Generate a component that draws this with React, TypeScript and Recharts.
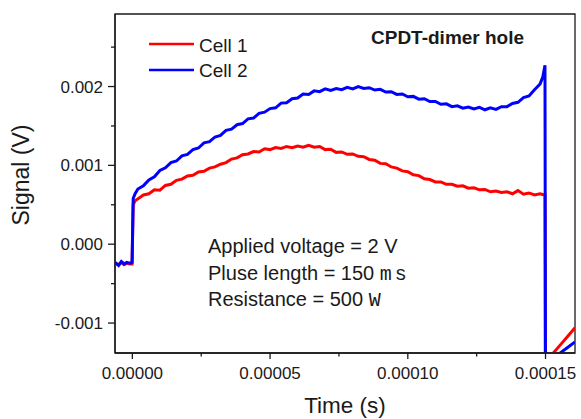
import { LineChart, Line, XAxis, YAxis, ReferenceArea, Customized } from "recharts"

// time in microseconds, signal in millivolts
const timeUs = [
  -6.3, -5, -4, -3, -2, -1, -0.1, 0.3, 1,
  2, 4, 6, 8, 10, 12, 14, 16, 18, 20,
  22, 24, 26, 28, 30, 32, 34, 36, 38, 40,
  42, 44, 46, 48, 50, 52, 54, 56, 58, 60,
  62, 64, 66, 68, 70, 72, 74, 76, 78, 80,
  82, 84, 86, 88, 90, 92, 94, 96, 98, 100,
  102, 104, 106, 108, 110, 112, 114, 116, 118, 120,
  122, 124, 126, 128, 130, 132, 134, 136, 138, 140,
  142, 144, 146, 148, 149, 149.8,
  150.1, 152.8, 155.3, 158, 160.7,
]

const cell1 = [
  -0.24, -0.26, -0.23, -0.26, -0.24, -0.25, -0.25, 0.5, 0.55,
  0.575, 0.625, 0.64, 0.69, 0.685, 0.745, 0.76, 0.81, 0.825, 0.865,
  0.875, 0.915, 0.925, 0.965, 0.98, 1.015, 1.035, 1.08, 1.095, 1.135,
  1.145, 1.175, 1.17, 1.21, 1.2, 1.225, 1.215, 1.24, 1.225, 1.245,
  1.23, 1.255, 1.23, 1.24, 1.2, 1.205, 1.165, 1.17, 1.14, 1.145,
  1.115, 1.11, 1.075, 1.065, 1.025, 1.02, 0.98, 0.965, 0.93, 0.92,
  0.88, 0.87, 0.83, 0.82, 0.79, 0.79, 0.76, 0.76, 0.735, 0.74,
  0.71, 0.715, 0.69, 0.695, 0.665, 0.675, 0.655, 0.665, 0.64, 0.68,
  0.635, 0.65, 0.625, 0.64, 0.63, 0.625,
  -4, -1.38, -1.28, -1.17, -1.06,
]

const cell2 = [
  -0.23, -0.27, -0.22, -0.25, -0.23, -0.24, -0.23, 0.58, 0.64,
  0.7, 0.74, 0.815, 0.855, 0.935, 0.97, 1.035, 1.055, 1.12, 1.14,
  1.2, 1.22, 1.285, 1.3, 1.36, 1.38, 1.445, 1.46, 1.515, 1.53,
  1.59, 1.6, 1.66, 1.675, 1.72, 1.73, 1.79, 1.795, 1.845, 1.855,
  1.905, 1.9, 1.945, 1.935, 1.97, 1.95, 1.975, 1.96, 1.99, 1.97,
  2.0, 1.975, 1.985, 1.955, 1.965, 1.93, 1.935, 1.9, 1.905, 1.87,
  1.875, 1.84, 1.845, 1.81, 1.81, 1.775, 1.78, 1.745, 1.755, 1.725,
  1.74, 1.715, 1.735, 1.705, 1.73, 1.71, 1.745, 1.745, 1.785, 1.8,
  1.86, 1.88, 1.96, 2.03, 2.12, 2.27,
  -4, -2.64, -1.38, -1.31, -1.24,
]

const xTicks = [0, 0.000025, 0.00005, 0.000075, 0.0001, 0.000125, 0.00015]
const yTicks = [-0.001, -0.0005, 0, 0.0005, 0.001, 0.0015, 0.002, 0.0025]
const xDomain = [-0.0000063, 0.0001607]
const yDomain = [-0.00138, 0.00292]

const annotations = [
  ["Applied voltage = 2 V", ""],
  ["Pluse length = 150 ", "ms"],
  ["Resistance = 500 ", "W"],
]

const data = timeUs.map((t, i) => ({
  time: t * 1e-6,
  cell1: cell1[i] / 1000,
  cell2: cell2[i] / 1000,
}))

const FONT = "'Liberation Sans', Arial, sans-serif"
const INK = "#1a1a1a"

const XTick = (props: any) => {
  const { x, y, payload, index } = props
  const major = index % 2 === 0
  return (
    <g>
      <line x1={x} x2={x} y1={y} y2={y + (major ? 6 : 3.5)} stroke={INK} strokeWidth={1.3} />
      {major && (
        <text x={x} y={y + 26} textAnchor="middle" fontSize={17} fontFamily={FONT} fill={INK}>
          {payload.value.toFixed(5)}
        </text>
      )}
    </g>
  )
}

const YTick = (props: any) => {
  const { x, y, payload, index } = props
  const major = index % 2 === 0
  return (
    <g>
      <line x1={x} x2={x - (major ? 7 : 4)} y1={y} y2={y} stroke={INK} strokeWidth={1.3} />
      {major && (
        <text x={x - 12} y={y + 6} textAnchor="end" fontSize={17} fontFamily={FONT} fill={INK}>
          {payload.value.toFixed(3)}
        </text>
      )}
    </g>
  )
}

const Decorations = () => (
  <g fontFamily={FONT} fill={INK}>
    <line x1={149} x2={194} y1={44} y2={44} stroke="#ff0000" strokeWidth={2.5} />
    <text x={199} y={52} fontSize={19}>Cell 1</text>
    <line x1={149} x2={194} y1={70} y2={70} stroke="#0000ff" strokeWidth={2.5} />
    <text x={199} y={77} fontSize={19}>Cell 2</text>
    <text x={371} y={44} fontSize={19} fontWeight="bold">CPDT-dimer hole</text>
    {annotations.map(([main, sym], i) => (
      <text key={i} x={208} y={253 + i * 26.7} fontSize={20}>
        {main}
        {sym && <tspan fontFamily="'Liberation Mono', monospace" letterSpacing={3}>{sym}</tspan>}
      </text>
    ))}
    <text x={345} y={413} fontSize={22.5} textAnchor="middle">Time (s)</text>
    <text x={0} y={0} fontSize={23} textAnchor="middle" transform="translate(28.5 175) rotate(-90)">
      Signal (V)
    </text>
  </g>
)

export default function App() {
  return (
    <div style={{ position: "absolute", left: 0, top: 0, background: "#fff" }}>
      <LineChart width={581} height={419} data={data} margin={{ top: 14, right: 6, bottom: 0, left: 0 }}>
        <XAxis
          dataKey="time"
          type="number"
          domain={xDomain}
          allowDataOverflow
          ticks={xTicks}
          interval={0}
          height={66}
          tickSize={0}
          tickMargin={0}
          tickLine={false}
          axisLine={{ stroke: INK, strokeWidth: 1.3 }}
          tick={<XTick />}
        />
        <YAxis
          type="number"
          domain={yDomain}
          allowDataOverflow
          ticks={yTicks}
          interval={0}
          width={115}
          tickSize={0}
          tickMargin={0}
          tickLine={false}
          axisLine={{ stroke: INK, strokeWidth: 1.3 }}
          tick={<YTick />}
        />
        <ReferenceArea
          x1={xDomain[0]}
          x2={xDomain[1]}
          y1={yDomain[0]}
          y2={yDomain[1]}
          fill="none"
          stroke={INK}
          strokeWidth={1.3}
          ifOverflow="visible"
        />
        <Line dataKey="cell1" stroke="#ff0000" strokeWidth={3} dot={false} isAnimationActive={false} />
        <Line dataKey="cell2" stroke="#0000ff" strokeWidth={3} dot={false} isAnimationActive={false} />
        <Customized component={Decorations} />
      </LineChart>
    </div>
  )
}
